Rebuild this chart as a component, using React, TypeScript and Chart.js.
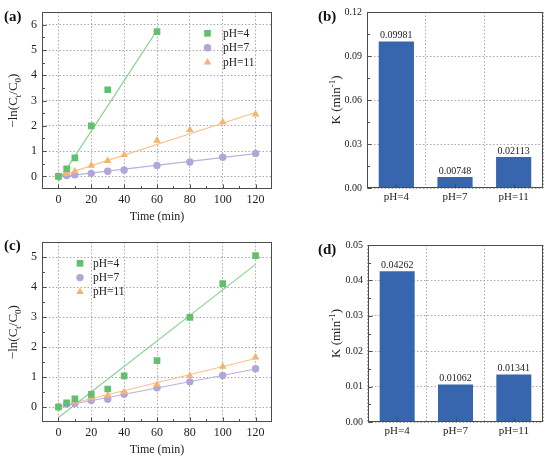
import React, { useEffect, useRef } from 'react';
import { Chart, registerables } from 'chart.js';

Chart.register(...registerables);

const SERIF = '"Liberation Serif", "Times New Roman", serif';
const INK = '#222222';
const FRAME = '#4d4d4d';
const GRID = '#a8a8a8';
const GREEN = '#62bf6e';
const PURPLE = '#b3a5d8';
const ORANGE = '#f7b46f';
const GREEN_FIT = '#86d18a';
const PURPLE_FIT = '#bcb0dd';
const ORANGE_FIT = '#f9c18a';
const BAR = '#3766ae';

Chart.defaults.font.family = SERIF;
Chart.defaults.color = INK;

// (a) -ln(Ct/C0) vs time, first set
const timeA4 = [0, 5, 10, 20, 30, 60];
const lnA4 = [0, 0.3, 0.73, 2.0, 3.43, 5.73];
const timeA = [0, 5, 10, 20, 30, 40, 60, 80, 100, 120];
const lnA7 = [0, 0.03, 0.06, 0.12, 0.2, 0.25, 0.43, 0.57, 0.76, 0.91];
const lnA11 = [0.02, 0.1, 0.2, 0.43, 0.62, 0.85, 1.42, 1.84, 2.15, 2.46];
const fitA4X = [0, 60];
const fitA4Y = [-0.2, 5.78];
const fitA7X = [0, 120];
const fitA7Y = [-0.02, 0.9];
const fitA11X = [0, 120];
const fitA11Y = [0.0, 2.53];

// (c) second set
const timeC = [0, 5, 10, 20, 30, 40, 60, 80, 100, 120];
const lnC4 = [0, 0.14, 0.27, 0.42, 0.6, 1.04, 1.55, 2.99, 4.12, 5.05];
const lnC7 = [0, 0.1, 0.12, 0.22, 0.26, 0.43, 0.64, 0.84, 1.05, 1.28];
const lnC11 = [0.03, 0.12, 0.17, 0.3, 0.39, 0.5, 0.75, 1.04, 1.35, 1.66];
const fitC4X = [0, 120];
const fitC4Y = [-0.35, 4.76];
const fitC7X = [0, 120];
const fitC7Y = [0.0, 1.27];
const fitC11X = [0, 120];
const fitC11Y = [0.01, 1.62];

const timeTicks = [0, 20, 40, 60, 80, 100, 120];
const timeMinor = [10, 30, 50, 70, 90, 110];
const lnTicksA = [0, 1, 2, 3, 4, 5, 6];
const lnTicksC = [0, 1, 2, 3, 4, 5];

// (b) and (d) rate constants
const phLabels = ['pH=4', 'pH=7', 'pH=11'];
const kB = [0.09981, 0.00748, 0.02113];
const kD = [0.04262, 0.01062, 0.01341];
const kTicksB = [0, 0.03, 0.06, 0.09, 0.12];
const kTicksD = [0, 0.01, 0.02, 0.03, 0.04, 0.05];

const legendItems = [
  { label: 'pH=4', shape: 'rect', color: GREEN },
  { label: 'pH=7', shape: 'circle', color: PURPLE },
  { label: 'pH=11', shape: 'triangle', color: ORANGE },
];

const RECT_R = 4.7;
const CIRCLE_R = 3.7;
const TRI_R = 4.4;

type Part = { t: string; s?: 'sub' | 'sup' };
type Box = { left: number; top: number; w: number; h: number };
type Area = { l: number; t: number; r: number; b: number };

const zip = (xs: number[], ys: number[]) => xs.map((x, i) => ({ x, y: ys[i] }));

function drawMarker(ctx: CanvasRenderingContext2D, shape: string, x: number, y: number, color: string) {
  ctx.fillStyle = color;
  ctx.beginPath();
  if (shape === 'rect') {
    const h = RECT_R * Math.SQRT1_2;
    ctx.rect(x - h, y - h, 2 * h, 2 * h);
  } else if (shape === 'circle') {
    ctx.arc(x, y, CIRCLE_R, 0, Math.PI * 2);
  } else {
    ctx.moveTo(x, y - TRI_R);
    ctx.lineTo(x + TRI_R * 0.866, y + TRI_R * 0.5);
    ctx.lineTo(x - TRI_R * 0.866, y + TRI_R * 0.5);
    ctx.closePath();
  }
  ctx.fill();
}

function drawVerticalRich(ctx: CanvasRenderingContext2D, cx: number, cy: number, parts: Part[], size: number) {
  const small = Math.round(size * 0.7);
  const fontOf = (p: Part) => `${p.s ? small : size}px ${SERIF}`;
  let total = 0;
  for (const p of parts) {
    ctx.font = fontOf(p);
    total += ctx.measureText(p.t).width;
  }
  ctx.save();
  ctx.translate(cx, cy);
  ctx.rotate(-Math.PI / 2);
  ctx.textAlign = 'left';
  ctx.textBaseline = 'alphabetic';
  ctx.fillStyle = INK;
  let x = -total / 2;
  for (const p of parts) {
    ctx.font = fontOf(p);
    const dy = p.s === 'sub' ? size * 0.25 : p.s === 'sup' ? -size * 0.4 : 0;
    ctx.fillText(p.t, x, size * 0.33 + dy);
    x += ctx.measureText(p.t).width;
  }
  ctx.restore();
}

type Decor = {
  tag: string;
  tagX: number;
  tagY: number;
  yTitle: Part[];
  yTitleX: number;
  xTitle?: string;
  xTitleY?: number;
  xMajor: number[];
  xMinor: number[];
  yMajor: number[];
  yMinor: number[];
  legend?: { x: number; y: number; textX: number; gap: number };
  barValues?: number[];
};

function makeDecor(d: Decor) {
  return {
    id: 'decor',
    afterDraw(chart: any) {
      const ctx: CanvasRenderingContext2D = chart.ctx;
      const a = chart.chartArea;
      const xs = chart.scales.x;
      const ys = chart.scales.y;
      ctx.save();
      ctx.setLineDash([]);

      if (d.barValues) {
        const meta = chart.getDatasetMeta(0);
        ctx.font = `10px ${SERIF}`;
        ctx.fillStyle = INK;
        ctx.textAlign = 'center';
        ctx.textBaseline = 'bottom';
        meta.data.forEach((el: any, i: number) => {
          ctx.fillText(d.barValues![i].toFixed(5), el.x, el.y - 1);
        });
      }

      // frame
      const L = Math.round(a.left) + 0.5;
      const T = Math.round(a.top) + 0.5;
      const R = Math.round(a.right) - 0.5;
      const B = Math.round(a.bottom) - 0.5;
      ctx.strokeStyle = FRAME;
      ctx.lineWidth = 1;
      ctx.strokeRect(L, T, R - L, B - T);

      // inward ticks
      ctx.beginPath();
      const xTick = (v: number, len: number) => {
        const px = Math.round(xs.getPixelForValue(v)) + 0.5;
        ctx.moveTo(px, B);
        ctx.lineTo(px, B - len);
      };
      const yTick = (v: number, len: number) => {
        const py = Math.round(ys.getPixelForValue(v)) + 0.5;
        ctx.moveTo(L, py);
        ctx.lineTo(L + len, py);
      };
      d.xMajor.forEach((v) => xTick(v, 4));
      d.xMinor.forEach((v) => xTick(v, 2.5));
      d.yMajor.forEach((v) => yTick(v, 4));
      d.yMinor.forEach((v) => yTick(v, 2.5));
      ctx.stroke();

      // panel tag
      ctx.fillStyle = '#111';
      ctx.font = `bold 15px ${SERIF}`;
      ctx.textAlign = 'left';
      ctx.textBaseline = 'middle';
      ctx.fillText(d.tag, d.tagX, d.tagY);

      // axis titles
      if (d.xTitle) {
        ctx.font = `12px ${SERIF}`;
        ctx.fillStyle = INK;
        ctx.textAlign = 'center';
        ctx.fillText(d.xTitle, (a.left + a.right) / 2, d.xTitleY!);
      }
      drawVerticalRich(ctx, d.yTitleX, (a.top + a.bottom) / 2, d.yTitle, 13);

      // legend
      if (d.legend) {
        const lg = d.legend;
        legendItems.forEach((it, i) => {
          const y = lg.y + i * lg.gap;
          drawMarker(ctx, it.shape, lg.x, y, it.color);
          ctx.fillStyle = INK;
          ctx.font = `11.5px ${SERIF}`;
          ctx.textAlign = 'left';
          ctx.textBaseline = 'middle';
          ctx.fillText(it.label, lg.textX, y + 0.5);
        });
      }
      ctx.restore();
    },
  };
}

const gridOpts = { color: GRID, lineWidth: 1, drawTicks: false };
const borderOpts = { display: false, dash: [1.5, 2] };

function scatterSet(points: { x: number; y: number }[], shape: string, color: string, radius: number) {
  return {
    data: points,
    pointStyle: shape,
    pointRadius: radius,
    pointBackgroundColor: color,
    pointBorderWidth: 0,
    showLine: false,
  };
}

function fitSet(points: { x: number; y: number }[], color: string) {
  return {
    data: points,
    showLine: true,
    borderColor: color,
    borderWidth: 1.1,
    pointRadius: 0,
  };
}

function lineConfig(box: Box, area: Area, datasets: any[], yMin: number, yMax: number, yTicks: number[], decor: Decor) {
  return {
    type: 'scatter',
    data: { datasets },
    options: {
      responsive: false,
      animation: false,
      layout: { padding: { left: 0, top: area.t, right: box.w - area.r, bottom: 0 } },
      plugins: { legend: { display: false }, tooltip: { enabled: false } },
      scales: {
        x: {
          type: 'linear',
          min: -10,
          max: 130,
          afterBuildTicks: (s: any) => {
            s.ticks = timeTicks.map((v) => ({ value: v }));
          },
          afterFit: (s: any) => {
            s.height = box.h - area.b;
          },
          grid: gridOpts,
          border: borderOpts,
          ticks: { padding: 4, color: INK, font: { size: 12, family: SERIF }, maxRotation: 0, autoSkip: false },
        },
        y: {
          type: 'linear',
          min: yMin,
          max: yMax,
          afterBuildTicks: (s: any) => {
            s.ticks = yTicks.map((v) => ({ value: v }));
          },
          afterFit: (s: any) => {
            s.width = area.l;
          },
          grid: gridOpts,
          border: borderOpts,
          ticks: { padding: 5, color: INK, font: { size: 12, family: SERIF }, autoSkip: false },
        },
      },
    },
    plugins: [makeDecor(decor)],
  };
}

function barConfig(box: Box, area: Area, values: number[], yMax: number, yTicks: number[], decor: Decor) {
  return {
    type: 'bar',
    data: {
      labels: phLabels,
      datasets: [
        {
          data: values,
          backgroundColor: BAR,
          borderWidth: 0,
          categoryPercentage: 1,
          barPercentage: 0.6,
        },
      ],
    },
    options: {
      responsive: false,
      animation: false,
      layout: { padding: { left: 0, top: area.t, right: box.w - area.r, bottom: 0 } },
      plugins: { legend: { display: false }, tooltip: { enabled: false } },
      scales: {
        x: {
          type: 'category',
          offset: true,
          afterFit: (s: any) => {
            s.height = box.h - area.b;
          },
          grid: { ...gridOpts, offset: true },
          border: borderOpts,
          ticks: { padding: 3, color: INK, font: { size: 11, family: SERIF }, maxRotation: 0, autoSkip: false },
        },
        y: {
          type: 'linear',
          min: 0,
          max: yMax,
          afterBuildTicks: (s: any) => {
            s.ticks = yTicks.map((v) => ({ value: v }));
          },
          afterFit: (s: any) => {
            s.width = area.l;
          },
          grid: gridOpts,
          border: borderOpts,
          ticks: {
            padding: 5,
            color: INK,
            font: { size: 10, family: SERIF },
            autoSkip: false,
            callback: (v: any) => Number(v).toFixed(2),
          },
        },
      },
    },
    plugins: [makeDecor(decor)],
  };
}

const lnTitle: Part[] = [{ t: '\u2212ln(C' }, { t: 't', s: 'sub' }, { t: '/C' }, { t: '0', s: 'sub' }, { t: ')' }];
const kTitle: Part[] = [{ t: 'K (min' }, { t: '-1', s: 'sup' }, { t: ')' }];

const halves = (ticks: number[]) => ticks.slice(0, -1).map((v, i) => (v + ticks[i + 1]) / 2);

const boxA: Box = { left: 0, top: 0, w: 280, h: 230 };
const areaA: Area = { l: 42, t: 5, r: 272, b: 189 };
const boxB: Box = { left: 280, top: 0, w: 270, h: 230 };
const areaB: Area = { l: 87, t: 12, r: 263, b: 188 };
const boxC: Box = { left: 0, top: 230, w: 280, h: 231 };
const areaC: Area = { l: 42, t: 5, r: 272, b: 192 };
const boxD: Box = { left: 280, top: 230, w: 270, h: 231 };
const areaD: Area = { l: 88, t: 15, r: 263, b: 192 };

function buildA() {
  return lineConfig(
    boxA,
    areaA,
    [
      scatterSet(zip(timeA4, lnA4), 'rect', GREEN, RECT_R),
      scatterSet(zip(timeA, lnA11), 'triangle', ORANGE, TRI_R),
      scatterSet(zip(timeA, lnA7), 'circle', PURPLE, CIRCLE_R),
      fitSet(zip(fitA4X, fitA4Y), GREEN_FIT),
      fitSet(zip(fitA11X, fitA11Y), ORANGE_FIT),
      fitSet(zip(fitA7X, fitA7Y), PURPLE_FIT),
    ],
    -0.5,
    6.5,
    lnTicksA,
    {
      tag: '(a)',
      tagX: 4,
      tagY: 17,
      yTitle: lnTitle,
      yTitleX: 13,
      xTitle: 'Time (min)',
      xTitleY: 217,
      xMajor: timeTicks,
      xMinor: timeMinor,
      yMajor: lnTicksA,
      yMinor: [0.5, ...halves(lnTicksA).slice(1), 5.5],
      legend: { x: 207.5, y: 33.3, textX: 223, gap: 14.5 },
    }
  );
}

function buildC() {
  return lineConfig(
    boxC,
    areaC,
    [
      scatterSet(zip(timeC, lnC4), 'rect', GREEN, RECT_R),
      scatterSet(zip(timeC, lnC11), 'triangle', ORANGE, TRI_R),
      scatterSet(zip(timeC, lnC7), 'circle', PURPLE, CIRCLE_R),
      fitSet(zip(fitC4X, fitC4Y), GREEN_FIT),
      fitSet(zip(fitC11X, fitC11Y), ORANGE_FIT),
      fitSet(zip(fitC7X, fitC7Y), PURPLE_FIT),
    ],
    -0.5,
    5.5,
    lnTicksC,
    {
      tag: '(c)',
      tagX: 4,
      tagY: 16,
      yTitle: lnTitle,
      yTitleX: 13,
      xTitle: 'Time (min)',
      xTitleY: 220,
      xMajor: timeTicks,
      xMinor: timeMinor,
      yMajor: lnTicksC,
      yMinor: halves(lnTicksC),
      legend: { x: 80, y: 33.3, textX: 93, gap: 14.3 },
    }
  );
}

function buildB() {
  return barConfig(boxB, areaB, kB, 0.12, kTicksB, {
    tag: '(b)',
    tagX: 38,
    tagY: 17,
    yTitle: kTitle,
    yTitleX: 56,
    xMajor: [0, 1, 2],
    xMinor: [],
    yMajor: kTicksB,
    yMinor: halves(kTicksB),
    barValues: kB,
  });
}

function buildD() {
  return barConfig(boxD, areaD, kD, 0.05, kTicksD, {
    tag: '(d)',
    tagX: 38,
    tagY: 20,
    yTitle: kTitle,
    yTitleX: 56,
    xMajor: [0, 1, 2],
    xMinor: [],
    yMajor: kTicksD,
    yMinor: halves(kTicksD),
    barValues: kD,
  });
}

const Panel: React.FC<{ box: Box; build: () => any }> = ({ box, build }) => {
  const canvasRef = useRef<HTMLCanvasElement | null>(null);
  const chartRef = useRef<Chart | null>(null);

  useEffect(() => {
    if (!canvasRef.current) return;
    if (chartRef.current) chartRef.current.destroy();
    chartRef.current = new Chart(canvasRef.current, build());
    return () => {
      if (chartRef.current) {
        chartRef.current.destroy();
        chartRef.current = null;
      }
    };
  }, []);

  return (
    <div style={{ position: 'absolute', left: box.left, top: box.top, width: box.w, height: box.h }}>
      <canvas
        ref={canvasRef}
        width={box.w}
        height={box.h}
        style={{ display: 'block', width: box.w, height: box.h }}
      />
    </div>
  );
};

export default function App() {
  return (
    <div style={{ position: 'absolute', left: 0, top: 0, width: 550, height: 461, background: '#fff' }}>
      <Panel box={boxA} build={buildA} />
      <Panel box={boxB} build={buildB} />
      <Panel box={boxC} build={buildC} />
      <Panel box={boxD} build={buildD} />
    </div>
  );
}
